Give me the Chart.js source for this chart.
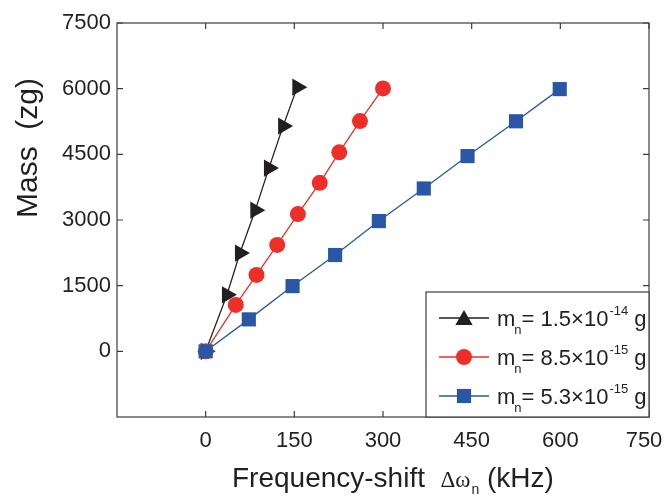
<!DOCTYPE html>
<html lang="en">
<head>
  <meta charset="UTF-8">
  <title>Mass vs frequency shift</title>
  <script src="https://cdn.jsdelivr.net/npm/chart.js"></script>
  <style>
    body { margin: 0; background: #fff; }
  </style>
</head>
<body>
  <canvas id="massChart" width="664" height="500"></canvas>
  <script>
    // values
    const xTicks = [0, 150, 300, 450, 600, 750];
    const yTicks = [0, 1500, 3000, 4500, 6000, 7500];

    // m_n = 1.5e-14 g
    const shiftHeavy = [0, 36, 58, 84, 107, 131, 155];
    const massHeavy = [0, 1290, 2245, 3225, 4185, 5145, 6035];
    // m_n = 8.5e-15 g
    const shiftMid = [0, 51, 86, 121, 156, 193, 226, 261, 300];
    const massMid = [0, 1060, 1745, 2430, 3135, 3850, 4545, 5260, 6005];
    // m_n = 5.3e-15 g
    const shiftLight = [0, 73, 147, 219, 293, 369, 443, 525, 599];
    const massLight = [0, 730, 1490, 2200, 2975, 3720, 4460, 5255, 5990];

    const legendMantissa = ['1.5×10', '8.5×10', '5.3×10'];
    const legendExponent = ['-14', '-15', '-15'];

    const FONT = '"Liberation Sans", Arial, sans-serif';
    const TEXT = '#231f20';

    function toPoints(xs, ys) {
      return xs.map((v, i) => ({ x: v, y: ys[i] }));
    }

    function series(xs, ys, color, style, radius, rotation, order) {
      return {
        data: toPoints(xs, ys),
        showLine: true,
        borderColor: color,
        borderWidth: 1.3,
        backgroundColor: color,
        pointBackgroundColor: color,
        pointBorderWidth: 0,
        pointStyle: style,
        pointRadius: radius,
        pointRotation: rotation,
        order: order
      };
    }

    function piece(ctx, text, x, y, size, family) {
      ctx.font = size + 'px ' + (family || FONT);
      ctx.fillText(text, x, y);
      return x + ctx.measureText(text).width;
    }

    // frame, inward ticks, labels, titles and legend (MATLAB look)
    const matlabAxes = {
      id: 'matlabAxes',
      afterDraw(chart) {
        const { ctx, chartArea: a, scales: { x, y } } = chart;
        ctx.save();

        ctx.strokeStyle = '#3c3c3c';
        ctx.lineWidth = 1.2;
        ctx.strokeRect(a.left, a.top, a.right - a.left, a.bottom - a.top);

        ctx.beginPath();
        xTicks.forEach(v => {
          const px = x.getPixelForValue(v);
          ctx.moveTo(px, a.bottom); ctx.lineTo(px, a.bottom - 6);
          ctx.moveTo(px, a.top); ctx.lineTo(px, a.top + 6);
        });
        yTicks.forEach(v => {
          const py = y.getPixelForValue(v);
          ctx.moveTo(a.left, py); ctx.lineTo(a.left + 6, py);
          ctx.moveTo(a.right, py); ctx.lineTo(a.right - 6, py);
        });
        ctx.stroke();

        // tick labels
        ctx.fillStyle = TEXT;
        ctx.font = '22px ' + FONT;
        ctx.textAlign = 'center';
        ctx.textBaseline = 'top';
        xTicks.forEach(v => ctx.fillText(String(v), Math.min(x.getPixelForValue(v), 644), a.bottom + 13));
        ctx.textAlign = 'right';
        ctx.textBaseline = 'middle';
        yTicks.forEach(v => ctx.fillText(String(v), a.left - 6, y.getPixelForValue(v)));

        // axis titles
        ctx.textAlign = 'left';
        ctx.textBaseline = 'alphabetic';
        let tx = piece(ctx, 'Frequency-shift  ', 232, 487, 28);
        tx = piece(ctx, 'Δω', tx, 487, 23, '"Liberation Serif", serif');
        tx = piece(ctx, 'n', tx + 1, 494, 14);
        piece(ctx, ' (kHz)', tx, 487, 28);

        ctx.save();
        ctx.translate(37, 148);
        ctx.rotate(-Math.PI / 2);
        ctx.textAlign = 'center';
        piece(ctx, 'Mass  (zg)', 0, 0, 30);
        ctx.restore();

        // legend box
        const lx = 426, ly = 292;
        ctx.fillStyle = '#fff';
        ctx.fillRect(lx, ly, a.right - lx, a.bottom - ly);
        ctx.strokeStyle = '#3c3c3c';
        ctx.strokeRect(lx, ly, a.right - lx, a.bottom - ly);

        const rowsY = [318, 357, 396];
        chart.data.datasets.forEach((ds, i) => {
          const cy = rowsY[i];
          ctx.strokeStyle = ds.borderColor;
          ctx.lineWidth = 1.3;
          ctx.beginPath();
          ctx.moveTo(439, cy); ctx.lineTo(489, cy);
          ctx.stroke();
          ctx.fillStyle = ds.pointBackgroundColor;
          // legend glyph for the triangle series points up
          Chart.helpers.drawPoint(ctx, {
            pointStyle: ds.pointStyle, radius: ds.pointRadius,
            rotation: 0, borderWidth: 0
          }, 464, cy + (ds.pointStyle === 'triangle' ? 2 : 0));

          ctx.fillStyle = TEXT;
          ctx.textAlign = 'left';
          ctx.textBaseline = 'alphabetic';
          const base = cy + 8;
          let px = piece(ctx, 'm', 497, base, 22);
          px = piece(ctx, 'n', px - 1, base + 8, 13);
          px = piece(ctx, '= ' + legendMantissa[i], px, base, 22);
          px = piece(ctx, legendExponent[i], px + 1, base - 11, 13);
          piece(ctx, ' g', px, base, 22);
        });

        ctx.restore();
      }
    };

    new Chart(document.getElementById('massChart'), {
      type: 'scatter',
      data: {
        datasets: [
          series(shiftHeavy, massHeavy, '#231f20', 'triangle', 10, 90, 3),
          series(shiftMid, massMid, '#ee2f29', 'circle', 8, 0, 2),
          series(shiftLight, massLight, '#2a56a6', 'rect', 10, 0, 1)
        ]
      },
      options: {
        responsive: false,
        animation: false,
        devicePixelRatio: 1,
        layout: { padding: { left: 117, right: 15, top: 23, bottom: 83 } },
        plugins: { legend: { display: false }, tooltip: { enabled: false } },
        scales: {
          x: { type: 'linear', min: -150, max: 750, display: false },
          y: { type: 'linear', min: -1500, max: 7500, display: false }
        }
      },
      plugins: [matlabAxes]
    });
  </script>
</body>
</html>
